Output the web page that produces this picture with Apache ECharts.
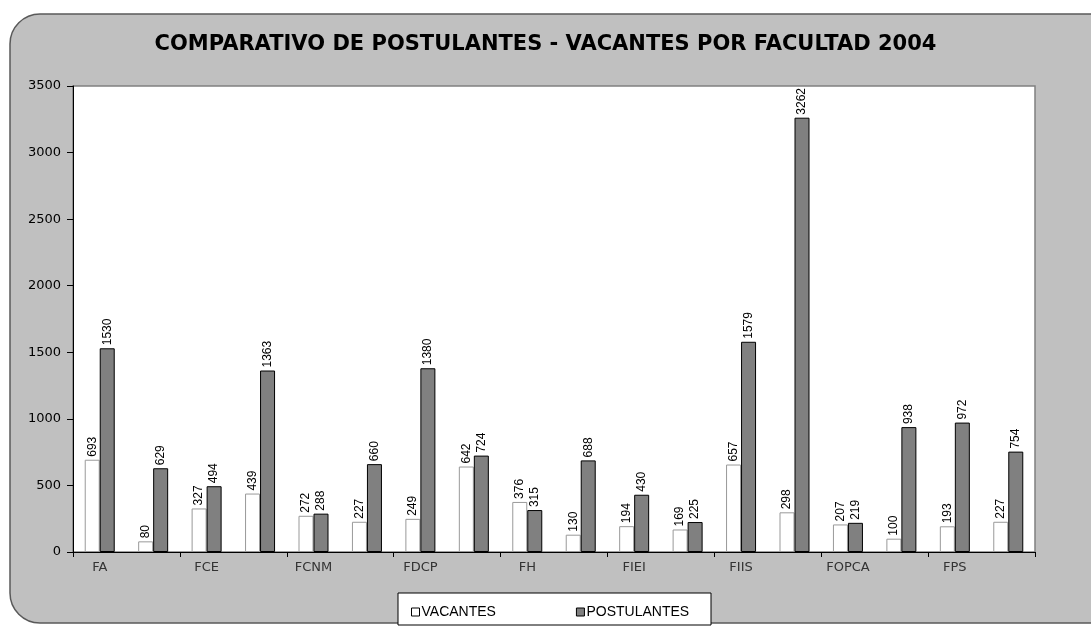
<!DOCTYPE html>
<html>
<head>
<meta charset="utf-8">
<script src="https://cdn.jsdelivr.net/npm/echarts@6/dist/echarts.min.js"></script>
<style>
  html, body { margin: 0; padding: 0; background: #fff; }
  #chart { width: 1091px; height: 626px; }
</style>
</head>
<body>
<div id="chart"></div>
<script>
// facultades (solo se rotulan una de cada dos en el eje)
var categories = ["FA", "FAU", "FCE", "FCF", "FCNM", "FCS", "FDCP", "FE", "FH",
  "FIC", "FIEI", "FIGAE", "FIIS", "FMH", "FOPCA", "FO", "FPS", "FTM"];
var vacantes = [693, 80, 327, 439, 272, 227, 249, 642, 376, 130, 194, 169, 657, 298, 207, 100, 193, 227];
var postulantes = [1530, 629, 494, 1363, 288, 660, 1380, 724, 315, 688, 430, 225, 1579, 3262, 219, 938, 972, 754];
var yTicks = [0, 500, 1000, 1500, 2000, 2500, 3000, 3500];

var chart = echarts.init(document.getElementById("chart"));

var barLabel = {
  show: true,
  position: "top",
  rotate: 90,
  align: "left",
  verticalAlign: "middle",
  distance: 3,
  color: "#000",
  fontSize: 12,
  fontFamily: "Liberation Sans Narrow, Liberation Sans, Arial"
};

var option = {
  animation: false,
  backgroundColor: "#fff",
  graphic: [
    {
      type: "rect",
      z: -10,
      shape: { x: 10, y: 14, width: 1110, height: 609, r: 30 },
      style: { fill: "#c0c0c0", stroke: "#595959", lineWidth: 1.5 }
    },
    {
      type: "rect",
      z: -5,
      shape: { x: 398, y: 593, width: 313, height: 32 },
      style: { fill: "#fff", stroke: "#000", lineWidth: 1 }
    }
  ],
  title: {
    text: "COMPARATIVO DE POSTULANTES - VACANTES POR FACULTAD 2004",
    left: "center",
    top: 29,
    textStyle: {
      fontFamily: "DejaVu Sans",
      fontSize: 21,
      fontWeight: "bold",
      color: "#000"
    }
  },
  legend: {
    data: [
      { name: "VACANTES", itemStyle: { color: "#fff", borderColor: "#000", borderWidth: 1 } },
      { name: "POSTULANTES", itemStyle: { color: "#808080", borderColor: "#000", borderWidth: 1 } }
    ],
    left: 406,
    top: 600,
    icon: "rect",
    itemWidth: 8,
    itemHeight: 8,
    itemGap: 80,
    textStyle: {
      color: "#000",
      fontSize: 14,
      fontFamily: "Liberation Sans, Arial",
      padding: [0, 0, 0, -3]
    }
  },
  grid: {
    left: 73,
    right: 56,
    top: 86,
    bottom: 74,
    show: true,
    backgroundColor: "#fff",
    borderColor: "#808080",
    borderWidth: 1.5
  },
  xAxis: {
    type: "category",
    data: categories,
    axisLine: { lineStyle: { color: "#000", width: 1 } },
    axisTick: { show: true, length: 5, lineStyle: { color: "#000" } },
    axisLabel: {
      interval: 1,
      margin: 9,
      color: "#333",
      fontSize: 13,
      fontFamily: "DejaVu Sans"
    }
  },
  yAxis: {
    type: "value",
    min: 0,
    max: yTicks[yTicks.length - 1],
    interval: 500,
    axisLine: { show: true, lineStyle: { color: "#000", width: 1 } },
    axisTick: { show: true, length: 6, lineStyle: { color: "#000" } },
    splitLine: { show: false },
    axisLabel: {
      margin: 12,
      color: "#000",
      fontSize: 13,
      fontFamily: "DejaVu Sans",
      formatter: function (v) { return String(v); }
    }
  },
  series: [
    {
      name: "VACANTES",
      type: "bar",
      data: vacantes,
      barWidth: 15,
      barGap: "0%",
      itemStyle: { color: "#fff", borderColor: "#999", borderWidth: 1 },
      label: barLabel
    },
    {
      name: "POSTULANTES",
      type: "bar",
      data: postulantes,
      barWidth: 15,
      itemStyle: { color: "#808080", borderColor: "#000", borderWidth: 1 },
      label: barLabel
    }
  ]
};

chart.setOption(option);
</script>
</body>
</html>
